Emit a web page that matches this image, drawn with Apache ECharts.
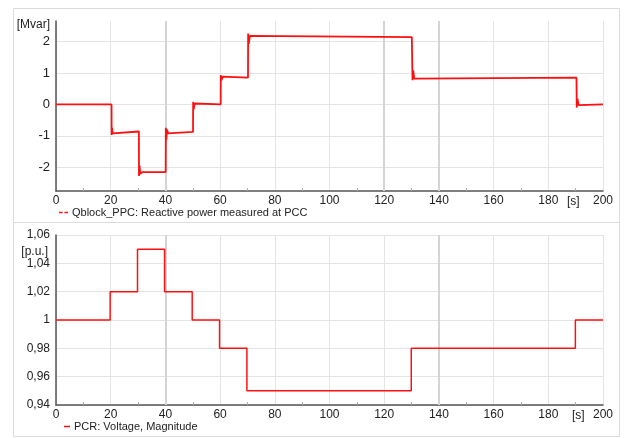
<!DOCTYPE html>
<html>
<head>
<meta charset="utf-8">
<script src="https://cdn.jsdelivr.net/npm/echarts@6/dist/echarts.min.js"></script>
<style>html,body{margin:0;padding:0;background:#fff}#c{width:627px;height:438px}</style>
</head>
<body>
<div id="c"></div>
<script>
// ---- data ----
const timeTicks = [0, 20, 40, 60, 80, 100, 120, 140, 160, 180, 200];
const qTicks = [-2, -1, 0, 1, 2];
const vTicks = [0.94, 0.96, 0.98, 1.00, 1.02, 1.04, 1.06];

// Reactive power at PCC [Mvar] (time s, value)
const qTime = [0, 20.3, 20.35, 20.5, 20.7, 21.2, 30.3, 30.35, 30.55, 30.8, 31.6, 40.1, 40.15, 40.35, 40.6, 41.0, 41.7,
  50.1, 50.15, 50.35, 50.7, 51.2, 60.2, 60.25, 60.5, 60.9, 61.6, 70.2, 70.25, 70.45, 70.9, 71.6,
  130.1, 130.15, 130.35, 130.6, 131.0, 131.7, 190.3, 190.4, 190.65, 191.1, 191.7, 200];
const qValue = [0, 0, -0.97, -0.74, -0.92, -0.86, -0.86, -2.27, -1.95, -2.2, -2.15, -2.15, -0.74, -1.12, -0.8, -0.92, -0.87,
  -0.87, 0.08, -0.16, 0.03, 0, 0, 0.93, 0.77, 0.88, 0.85, 0.85, 2.25, 1.92, 2.18, 2.14,
  2.14, 2.19, 0.77, 1.08, 0.82, 0.85, 0.85, -0.1, 0.18, -0.02, 0, 0];

// Voltage magnitude at PCR [p.u.] (step change time, new value)
const vTime = [0, 19.8, 29.8, 39.7, 49.8, 59.8, 69.8, 129.9, 189.9, 200];
const vValue = [1.00, 1.02, 1.05, 1.02, 1.00, 0.98, 0.95, 0.98, 1.00, 1.00];

const topCursors = [40, 120, 140];
const bottomCursors = [40, 140];

const qName = 'Qblock_PPC: Reactive power measured at PCC';
const vName = 'PCR: Voltage, Magnitude';

// ---- chart ----
const FONT = "'Liberation Sans', Arial, sans-serif";
const TXT = '#222';
const GRIDC = '#e4e4e4';
const AXC = '#555';

function xAxisCfg(gi) {
  return {
    type: 'value', gridIndex: gi, min: 0, max: 200, interval: 20,
    axisLine: { show: true, onZero: false, lineStyle: { color: AXC, width: 1.5 } },
    axisTick: { show: false },
    minorTick: { show: true, splitNumber: 2, length: -3, lineStyle: { color: '#aaa' } },
    axisLabel: { color: TXT, fontFamily: FONT, fontSize: 12, margin: 4, customValues: timeTicks },
    splitLine: { show: true, lineStyle: { color: GRIDC, width: 1 } }
  };
}

function fmtV(v) {
  if (Math.abs(v - 1) < 1e-9) return '1';
  return v.toFixed(2).replace('.', ',');
}

const chart = echarts.init(document.getElementById('c'), null, { renderer: 'canvas' });
chart.setOption({
  backgroundColor: '#fff',
  animation: false,
  textStyle: { fontFamily: FONT },
  grid: [
    { left: 56, top: 21, width: 547, height: 170 },
    { left: 56, top: 235, width: 547, height: 170 }
  ],
  legend: [
    { data: [{ name: qName, icon: 'path://M0,0h4v1.5h-4zM6,0h4v1.5h-4z' }], left: 59, top: 207,
      itemWidth: 9, itemHeight: 2, itemGap: 0, padding: 0,
      textStyle: { color: TXT, fontFamily: FONT, fontSize: 11, padding: [0, 0, 0, -1] } },
    { data: [{ name: vName, icon: 'path://M0,0h6v1.5h-6z' }], left: 64, top: 421,
      itemWidth: 6, itemHeight: 2, itemGap: 0, padding: 0,
      textStyle: { color: TXT, fontFamily: FONT, fontSize: 11, padding: [0, 0, 0, -1] } }
  ],
  xAxis: [xAxisCfg(0), xAxisCfg(1)],
  yAxis: [
    {
      type: 'value', gridIndex: 0, min: -2.75, max: 2.65,
      name: '[Mvar]', nameLocation: 'end', nameGap: -4,
      nameTextStyle: { color: TXT, fontFamily: FONT, fontSize: 12, align: 'right', verticalAlign: 'middle', padding: [0, 6, 0, 0] },
      axisLine: { show: true, onZero: false, lineStyle: { color: AXC, width: 1.5 } },
      axisTick: { show: false, customValues: qTicks },
      axisLabel: { color: TXT, fontFamily: FONT, fontSize: 13, margin: 6, customValues: qTicks,
        formatter: v => String(v) },
      splitLine: { show: true, lineStyle: { color: GRIDC } }
    },
    {
      type: 'value', gridIndex: 1, min: 0.94, max: 1.06,
      name: '[p.u.]', nameLocation: 'end', nameGap: -20,
      nameTextStyle: { color: TXT, fontFamily: FONT, fontSize: 12, align: 'right', verticalAlign: 'middle', padding: [0, 8, 0, 0] },
      axisLine: { show: true, onZero: false, lineStyle: { color: AXC, width: 1.5 } },
      axisTick: { show: false, customValues: vTicks },
      axisLabel: { color: TXT, fontFamily: FONT, fontSize: 12, margin: 6, customValues: vTicks,
        formatter: fmtV },
      splitLine: { show: true, lineStyle: { color: GRIDC } }
    }
  ],
  graphic: [
    { type: 'rect', shape: { x: 13.5, y: 8.5, width: 606, height: 428 }, style: { fill: 'none', stroke: '#dcdcdc', lineWidth: 1 }, silent: true },
    { type: 'line', shape: { x1: 13.5, y1: 222.5, x2: 619.5, y2: 222.5 }, style: { stroke: '#dcdcdc', lineWidth: 1 }, silent: true },
    { type: 'text', left: 567, top: 196, style: { text: '[s]', fill: TXT, font: '12px ' + FONT } },
    { type: 'text', left: 572, top: 410, style: { text: '[s]', fill: TXT, font: '12px ' + FONT } }
  ],
  series: [
    {
      name: qName, type: 'line', xAxisIndex: 0, yAxisIndex: 0, showSymbol: false, symbol: 'none',
      data: qTime.map((t, i) => [t, qValue[i]]),
      lineStyle: { color: '#ff1010', width: 1.8 }, itemStyle: { color: '#ff1010' },
      markLine: { silent: true, symbol: 'none', label: { show: false },
        lineStyle: { color: '#d4d4d4', width: 2, type: 'solid' },
        data: topCursors.map(x => ({ xAxis: x })) },
      z: 5
    },
    {
      name: vName, type: 'line', xAxisIndex: 1, yAxisIndex: 1, showSymbol: false, symbol: 'none', step: 'end',
      data: vTime.map((t, i) => [t, vValue[i]]),
      lineStyle: { color: '#ff1010', width: 1.5 }, itemStyle: { color: '#ff1010' },
      markLine: { silent: true, symbol: 'none', label: { show: false },
        lineStyle: { color: '#d4d4d4', width: 2, type: 'solid' },
        data: bottomCursors.map(x => ({ xAxis: x })) },
      z: 5
    }
  ]
});
</script>
</body>
</html>
